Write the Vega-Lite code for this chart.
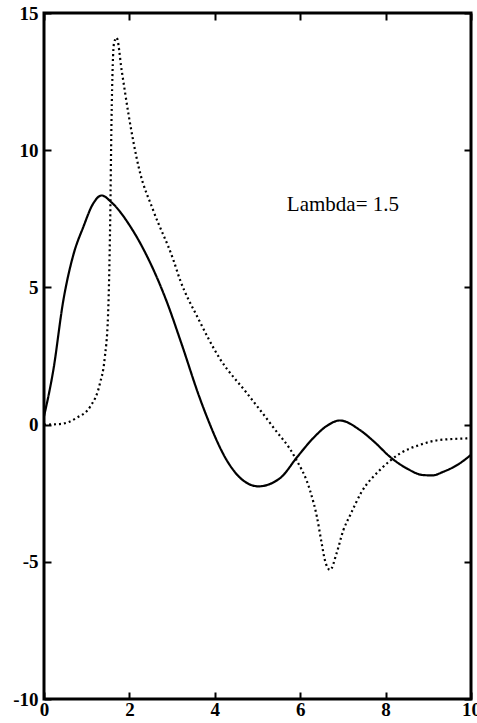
{
  "$schema": "https://vega.github.io/schema/vega-lite/v6.json",
  "autosize": "none",
  "width": 427,
  "height": 686,
  "padding": {"left": 44, "top": 13, "right": 6, "bottom": 24},
  "background": "white",
  "config": {
    "view": {"stroke": "black", "strokeWidth": 3},
    "axis": {
      "grid": false,
      "domain": false,
      "title": null,
      "tickColor": "black",
      "tickWidth": 2,
      "tickSize": -7,
      "labelFont": "Liberation Serif",
      "labelFontWeight": "bold",
      "labelFontSize": 19,
      "labelColor": "black"
    }
  },
  "datasets": {
    "curves": [
      {"x": 0, "y": 0.3, "series": "solid"},
      {"x": 0.22, "y": 2.0, "series": "solid"},
      {"x": 0.45, "y": 4.5, "series": "solid"},
      {"x": 0.69, "y": 6.2, "series": "solid"},
      {"x": 0.92, "y": 7.2, "series": "solid"},
      {"x": 1.15, "y": 8.05, "series": "solid"},
      {"x": 1.35, "y": 8.35, "series": "solid"},
      {"x": 1.58, "y": 8.1, "series": "solid"},
      {"x": 2.05, "y": 7.15, "series": "solid"},
      {"x": 2.44, "y": 6.05, "series": "solid"},
      {"x": 2.87, "y": 4.5, "series": "solid"},
      {"x": 3.22, "y": 2.95, "series": "solid"},
      {"x": 3.64, "y": 1.0, "series": "solid"},
      {"x": 3.81, "y": 0.3, "series": "solid"},
      {"x": 4.28, "y": -1.3, "series": "solid"},
      {"x": 4.6, "y": -1.95, "series": "solid"},
      {"x": 5.02, "y": -2.25, "series": "solid"},
      {"x": 5.53, "y": -1.95, "series": "solid"},
      {"x": 5.92, "y": -1.2, "series": "solid"},
      {"x": 6.3, "y": -0.5, "series": "solid"},
      {"x": 6.62, "y": -0.05, "series": "solid"},
      {"x": 6.93, "y": 0.15, "series": "solid"},
      {"x": 7.4, "y": -0.2, "series": "solid"},
      {"x": 7.75, "y": -0.65, "series": "solid"},
      {"x": 8.1, "y": -1.17, "series": "solid"},
      {"x": 8.5, "y": -1.6, "series": "solid"},
      {"x": 8.88, "y": -1.84, "series": "solid"},
      {"x": 9.1, "y": -1.85, "series": "solid"},
      {"x": 9.35, "y": -1.72, "series": "solid"},
      {"x": 9.7, "y": -1.45, "series": "solid"},
      {"x": 10, "y": -1.1, "series": "solid"},
      {"x": 0, "y": 0, "series": "dotted"},
      {"x": 0.37, "y": 0.02, "series": "dotted"},
      {"x": 0.77, "y": 0.25, "series": "dotted"},
      {"x": 1.08, "y": 0.65, "series": "dotted"},
      {"x": 1.31, "y": 1.5, "series": "dotted"},
      {"x": 1.42, "y": 2.4, "series": "dotted"},
      {"x": 1.5, "y": 4.0, "series": "dotted"},
      {"x": 1.55, "y": 7.4, "series": "dotted"},
      {"x": 1.58, "y": 11.0, "series": "dotted"},
      {"x": 1.64, "y": 13.9, "series": "dotted"},
      {"x": 1.7, "y": 14.1, "series": "dotted"},
      {"x": 1.82, "y": 12.9, "series": "dotted"},
      {"x": 1.98, "y": 11.3, "series": "dotted"},
      {"x": 2.23, "y": 9.3, "series": "dotted"},
      {"x": 2.56, "y": 7.8, "series": "dotted"},
      {"x": 3.03, "y": 6.0, "series": "dotted"},
      {"x": 3.18, "y": 5.3, "series": "dotted"},
      {"x": 3.6, "y": 3.9, "series": "dotted"},
      {"x": 4.12, "y": 2.4, "series": "dotted"},
      {"x": 4.75, "y": 1.15, "series": "dotted"},
      {"x": 5.37, "y": -0.1, "series": "dotted"},
      {"x": 5.88, "y": -1.2, "series": "dotted"},
      {"x": 6.23, "y": -2.4, "series": "dotted"},
      {"x": 6.39, "y": -3.35, "series": "dotted"},
      {"x": 6.5, "y": -4.3, "series": "dotted"},
      {"x": 6.58, "y": -4.95, "series": "dotted"},
      {"x": 6.7, "y": -5.3, "series": "dotted"},
      {"x": 6.85, "y": -4.7, "series": "dotted"},
      {"x": 7.01, "y": -3.85, "series": "dotted"},
      {"x": 7.17, "y": -3.3, "series": "dotted"},
      {"x": 7.44, "y": -2.45, "series": "dotted"},
      {"x": 7.87, "y": -1.65, "series": "dotted"},
      {"x": 8.34, "y": -1.05, "series": "dotted"},
      {"x": 8.8, "y": -0.74, "series": "dotted"},
      {"x": 9.27, "y": -0.56, "series": "dotted"},
      {"x": 10, "y": -0.5, "series": "dotted"}
    ],
    "label": [{"x": 7.0, "y": 8.0, "text": "Lambda= 1.5"}]
  },
  "layer": [
    {
      "data": {"name": "curves"},
      "mark": {"type": "line", "interpolate": "monotone", "color": "black", "strokeWidth": 2.2, "strokeCap": "butt", "clip": true},
      "encoding": {
        "x": {"field": "x", "type": "quantitative", "scale": {"domain": [0, 10], "nice": false, "zero": false}, "axis": {"orient": "bottom", "values": [0, 2, 4, 6, 8, 10], "labelPadding": 8, "labelFlush": false}},
        "y": {"field": "y", "type": "quantitative", "scale": {"domain": [-10, 15], "nice": false, "zero": false}, "axis": {"orient": "left", "values": [-10, -5, 0, 5, 10, 15], "labelPadding": 13, "labelFlush": false, "labelExpr": "datum.value < 0 ? '-' + abs(datum.value) : '' + datum.value"}},
        "detail": {"field": "series", "type": "nominal"},
        "strokeDash": {"field": "series", "type": "nominal", "scale": {"domain": ["solid", "dotted"], "range": [[1, 0], [2, 3]]}, "legend": null}
      }
    },
    {
      "data": {"name": "curves"},
      "mark": {"type": "line", "opacity": 0},
      "encoding": {
        "x": {"field": "x", "type": "quantitative", "axis": {"orient": "top", "values": [0, 2, 4, 6, 8, 10], "labels": false}},
        "y": {"field": "y", "type": "quantitative", "axis": {"orient": "right", "values": [-10, -5, 0, 5, 10, 15], "labels": false}}
      }
    },
    {
      "data": {"name": "label"},
      "mark": {"type": "text", "font": "Liberation Serif", "fontSize": 21, "color": "black", "align": "center", "baseline": "middle"},
      "encoding": {
        "x": {"field": "x", "type": "quantitative", "axis": null},
        "y": {"field": "y", "type": "quantitative", "axis": null},
        "text": {"field": "text"}
      }
    }
  ],
  "resolve": {"axis": {"x": "independent", "y": "independent"}}
}
